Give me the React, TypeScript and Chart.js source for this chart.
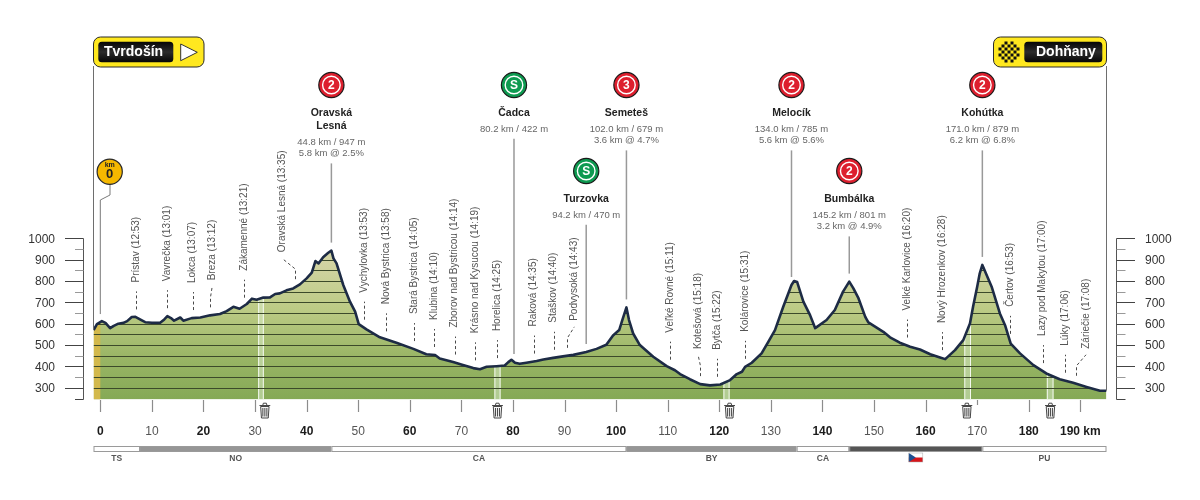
import React, { useEffect, useRef } from "react";
import { Chart, registerables } from "chart.js";

Chart.register(...registerables);

const FONT = '"Liberation Sans", Arial, sans-serif';

// profile
const profileKm = [-1.3,-0.65,0.3,1,1.9,2.6,3.5,4.5,5.2,6.1,6.8,7.7,8.7,10,11.6,12.4,13,13.7,14.3,15.5,16.1,17.7,19.4,21.3,23.2,24.5,25.8,27,28.4,29.4,30.3,31.6,32.9,33.9,34.8,36.1,37.4,38.7,40,41,41.7,42.3,43.2,44.2,44.8,45.2,45.8,47.1,48.4,49.4,50.1,51.6,54.2,57.4,60.7,63.2,64.9,65.8,68.4,70.3,72.3,73.6,74.9,76.8,78.4,79.1,79.7,80.4,81.3,82.6,84.6,85.9,87.8,89.7,91.7,94.2,96.2,98.1,99.4,100.6,101.2,102,102.5,103.3,104.6,107.2,109.8,111.4,112.4,114.3,116.3,118.2,120.2,122.1,123.4,124.4,125,126.3,128.2,129.5,130.8,132.4,134,134.5,135.1,136.3,137.6,138.6,140.8,142.4,144,145.2,146,147,148.3,148.9,150.2,151.8,153.1,155,157,158.9,160.9,162.8,163.8,165.7,167.3,168.6,169.2,170,170.5,171,172.8,174.4,175.4,176.5,178.3,180.9,183.4,186,188.6,191.2,193.8,195.07];
const profileElevation = [575,603,617,609,584,595,605,609,617,636,637,625,612,609,609,625,640,631,619,634,619,631,634,644,650,664,684,675,697,722,717,727,728,744,747,761,770,789,817,844,898,887,916,937,947,911,887,786,708,661,603,578,541,516,487,462,458,442,425,412,397,392,403,406,409,425,436,422,417,422,430,437,445,452,459,472,487,506,550,575,622,681,622,559,505,450,406,387,369,345,322,316,320,341,369,380,403,422,466,520,575,684,786,805,800,708,645,584,622,669,755,802,770,723,637,611,591,567,541,516,497,484,462,447,439,481,528,606,684,778,841,880,778,653,598,512,466,411,372,345,328,309,291,291];

// axes
const kmTicks = [0,10,20,30,40,50,60,70,80,90,100,110,120,130,140,150,160,170,180,190];
const kmBoldTicks = [0,20,40,60,80,100,120,140,160,180,190];
const kmShortTicks = [170];
const elevMajorTicks = [300,400,500,600,700,800,900,1000];
const elevMinorTicks = [250,350,450,550,650,750,850,950];
const elevGridLines = [300,350,400,450,500,550,600,650,700,750,800,850,900,950];

// towns
const townNames = ["Prístav (12:53)","Vavrečka (13:01)","Lokca (13:07)","Breza (13:12)","Zákamenné (13:21)","Oravská Lesná (13:35)","Vychylovka (13:53)","Nová Bystrica (13:58)","Stará Bystrica (14:05)","Klubina (14:10)","Zborov nad Bystricou (14:14)","Krásno nad Kysucou (14:19)","Horelica (14:25)","Raková (14:35)","Staškov (14:40)","Podvysoká (14:43)","Veľké Rovné (15:11)","Kotešová (15:18)","Bytča (15:22)","Kolárovice (15:31)","Velké Karlovice (16:20)","Nový Hrozenkov (16:28)","Čertov (16:53)","Lazy pod Makytou (17:00)","Lúky (17:06)","Záriečie (17:08)"];
const townKm = [7,13,17.9,21.3,27.9,37.8,51.1,55.4,60.8,64.7,68.7,72.6,77,84,87.9,90.4,110.4,116.3,119.6,125,156.4,163.2,176.4,182.7,187.1,189.2];
const townTextKm = [7,13,17.9,21.7,27.9,35.2,51.1,55.4,60.8,64.7,68.7,72.6,77,84,87.9,91.9,110.4,115.9,119.6,125,156.4,163.2,176.4,182.7,187.1,191.1];

// climbs
const climbTitles = [["Oravská","Lesná"],["Čadca"],["Turzovka"],["Semeteš"],["Melocík"],["Bumbálka"],["Kohútka"]];
const climbKm = [44.8,80.2,94.2,102,134,145.2,171];
const climbInfo = [["44.8 km / 947 m","5.8 km @ 2.5%"],["80.2 km / 422 m"],["94.2 km / 470 m"],["102.0 km / 679 m","3.6 km @ 4.7%"],["134.0 km / 785 m","5.6 km @ 5.6%"],["145.2 km / 801 m","3.2 km @ 4.9%"],["171.0 km / 879 m","6.2 km @ 6.8%"]];
const climbBadge = ["2","S","S","3","2","2","2"];
const climbLowerRow = [false,false,true,false,false,true,false];

// feed zones
const feedStartKm = [30.6,76.4,120.8,167.5,183.5];
const feedEndKm = [31.7,77.6,122,168.8,184.8];
const trashKm = [31.9,77,122,168,184.2];

// regions
const regionEndKm = [7.7,44.8,102,135,145.2,171,195.07];
const regionNames = ["TS","NO","CA","BY","CA","","PU"];
const regionShade = ["#ffffff","#969696","#ffffff","#969696","#ffffff","#555555","#ffffff"];

const startName = "Tvrdošín";
const finishName = "Dohňany";

function elevationAt(km: number) {
  for (let i = 1; i < profileKm.length; i++) {
    if (km <= profileKm[i]) {
      const t = (km - profileKm[i - 1]) / (profileKm[i] - profileKm[i - 1]);
      return profileElevation[i - 1] + t * (profileElevation[i] - profileElevation[i - 1]);
    }
  }
  return profileElevation[profileElevation.length - 1];
}

function roundRect(ctx: CanvasRenderingContext2D, x: number, y: number, w: number, h: number, r: number) {
  ctx.beginPath();
  ctx.roundRect(x, y, w, h, r);
}

function drawTrash(ctx: CanvasRenderingContext2D, cx: number) {
  ctx.save();
  ctx.strokeStyle = "#333";
  ctx.fillStyle = "#f4f4f4";
  ctx.lineWidth = 0.9;
  ctx.beginPath();
  ctx.moveTo(cx - 4.2, 406.5);
  ctx.lineTo(cx - 3.4, 418);
  ctx.lineTo(cx + 3.4, 418);
  ctx.lineTo(cx + 4.2, 406.5);
  ctx.closePath();
  ctx.fill();
  ctx.stroke();
  ctx.beginPath();
  ctx.moveTo(cx - 5.4, 405.5);
  ctx.lineTo(cx + 5.4, 405.5);
  ctx.moveTo(cx - 2, 405);
  ctx.lineTo(cx - 1.5, 403.2);
  ctx.lineTo(cx + 1.5, 403.2);
  ctx.lineTo(cx + 2, 405);
  for (const dx of [-2, 0, 2]) {
    ctx.moveTo(cx + dx, 408);
    ctx.lineTo(cx + dx, 416.5);
  }
  ctx.stroke();
  ctx.restore();
}

function drawBadge(ctx: CanvasRenderingContext2D, cx: number, cy: number, label: string) {
  const green = label === "S";
  ctx.save();
  ctx.beginPath();
  ctx.arc(cx, cy, 12.6, 0, Math.PI * 2);
  ctx.fillStyle = green ? "#0d9a50" : "#dd1f2e";
  ctx.fill();
  ctx.lineWidth = 1.2;
  ctx.strokeStyle = "#1a1a1a";
  ctx.stroke();
  ctx.beginPath();
  ctx.arc(cx, cy, 8.8, 0, Math.PI * 2);
  ctx.lineWidth = 1.4;
  ctx.strokeStyle = "#fff";
  ctx.stroke();
  ctx.fillStyle = "#fff";
  ctx.font = `bold 12px ${FONT}`;
  ctx.textAlign = "center";
  ctx.textBaseline = "middle";
  ctx.fillText(label, cx, cy + 0.5);
  ctx.restore();
}

function blackPlate(ctx: CanvasRenderingContext2D, x: number, w: number) {
  const g = ctx.createLinearGradient(0, 41.5, 0, 62.5);
  g.addColorStop(0, "#050505");
  g.addColorStop(0.5, "#2c2c2c");
  g.addColorStop(1, "#050505");
  ctx.fillStyle = g;
  roundRect(ctx, x, 41.7, w, 20.6, 3.5);
  ctx.fill();
}

const decorPlugin = {
  id: "decor",
  afterDatasetDraw(chart: any, args: any) {
    if (args.index !== 0) return;
    const { ctx, chartArea } = chart;
    const x = chart.scales.x;
    const y = chart.scales.y;
    ctx.save();
    ctx.beginPath();
    ctx.moveTo(x.getPixelForValue(profileKm[0]), chartArea.bottom);
    profileKm.forEach((k, i) => ctx.lineTo(x.getPixelForValue(k), y.getPixelForValue(profileElevation[i])));
    ctx.lineTo(x.getPixelForValue(profileKm[profileKm.length - 1]), chartArea.bottom);
    ctx.closePath();
    ctx.clip();
    // neutralised start
    ctx.fillStyle = "#d3b94c";
    ctx.fillRect(chartArea.left, chartArea.top, x.getPixelForValue(0) - chartArea.left, chartArea.height);
    // feed zones
    feedStartKm.forEach((k, i) => {
      const a = x.getPixelForValue(k);
      const b = x.getPixelForValue(feedEndKm[i]);
      ctx.fillStyle = "rgba(220,238,205,0.5)";
      ctx.fillRect(a, chartArea.top, b - a, chartArea.height);
      ctx.fillStyle = "#f4f8ee";
      ctx.fillRect(a, chartArea.top, 1, chartArea.height);
      ctx.fillRect(b - 1, chartArea.top, 1, chartArea.height);
    });
    // elevation lines
    ctx.strokeStyle = "#3c4a2a";
    ctx.lineWidth = 1;
    elevGridLines.forEach((e) => {
      const py = Math.round(y.getPixelForValue(e)) - 0.5;
      ctx.beginPath();
      ctx.moveTo(chartArea.left, py);
      ctx.lineTo(chartArea.right, py);
      ctx.stroke();
    });
    ctx.restore();
  },
  afterDraw(chart: any) {
    const { ctx, chartArea } = chart;
    const x = chart.scales.x;
    const y = chart.scales.y;
    const profileY = (k: number) => y.getPixelForValue(elevationAt(k));
    ctx.save();

    // frame lines
    ctx.strokeStyle = "#6e6e6e";
    ctx.lineWidth = 1;
    ctx.beginPath();
    ctx.moveTo(chartArea.left, 66);
    ctx.lineTo(chartArea.left, y.getPixelForValue(profileElevation[0]));
    ctx.moveTo(chartArea.right, 66);
    ctx.lineTo(chartArea.right, y.getPixelForValue(profileElevation[profileElevation.length - 1]));
    ctx.stroke();

    // side scales
    const top = Math.round(y.getPixelForValue(1000)) - 0.5;
    const bot = Math.round(y.getPixelForValue(250)) - 0.5;
    ctx.strokeStyle = "#555";
    ctx.beginPath();
    ctx.moveTo(83.5, top);
    ctx.lineTo(83.5, bot);
    ctx.moveTo(1116.5, top);
    ctx.lineTo(1116.5, bot);
    ctx.stroke();
    elevMajorTicks.forEach((e) => {
      const py = Math.round(y.getPixelForValue(e)) - 0.5;
      ctx.strokeStyle = "#444";
      ctx.beginPath();
      ctx.moveTo(65, py);
      ctx.lineTo(83.5, py);
      ctx.moveTo(1116.5, py);
      ctx.lineTo(1135, py);
      ctx.stroke();
    });
    elevMinorTicks.forEach((e) => {
      const py = Math.round(y.getPixelForValue(e)) - 0.5;
      ctx.strokeStyle = e === 250 ? "#444" : "#999";
      ctx.beginPath();
      ctx.moveTo(75, py);
      ctx.lineTo(83.5, py);
      ctx.moveTo(1116.5, py);
      ctx.lineTo(1125.5, py);
      ctx.stroke();
    });

    // km ticks
    ctx.strokeStyle = "#8c8c8c";
    ctx.lineWidth = 1.2;
    kmTicks.forEach((k) => {
      const px = Math.round(x.getPixelForValue(k)) + 0.5;
      ctx.beginPath();
      ctx.moveTo(px, 400);
      ctx.lineTo(px, kmShortTicks.includes(k) ? 405 : 412);
      ctx.stroke();
    });

    // trash bins
    trashKm.forEach((k) => drawTrash(ctx, x.getPixelForValue(k)));

    // km 0 marker
    const zero = x.getPixelForValue(0);
    ctx.strokeStyle = "#7a7a7a";
    ctx.lineWidth = 1;
    ctx.beginPath();
    ctx.moveTo(zero + 9.7, 184);
    ctx.lineTo(zero + 9.7, 195);
    ctx.lineTo(zero, 200);
    ctx.lineTo(zero, profileY(0) - 8);
    ctx.stroke();
    ctx.beginPath();
    ctx.arc(zero + 9.4, 171.7, 12.6, 0, Math.PI * 2);
    ctx.fillStyle = "#f5b800";
    ctx.fill();
    ctx.strokeStyle = "#2a2a2a";
    ctx.lineWidth = 1.2;
    ctx.stroke();
    ctx.fillStyle = "#222";
    ctx.textAlign = "center";
    ctx.textBaseline = "middle";
    ctx.font = `bold 7px ${FONT}`;
    ctx.fillText("km", zero + 9.4, 164.8);
    ctx.font = `bold 13px ${FONT}`;
    ctx.fillText("0", zero + 9.4, 174);

    // towns
    townNames.forEach((name, i) => {
      const px = Math.round(x.getPixelForValue(townKm[i])) + 0.5;
      const tx = x.getPixelForValue(townTextKm[i]);
      const base = profileY(townKm[i]);
      const low = base - 8;
      const kinked = townTextKm[i] !== townKm[i];
      const textBottom = base - 35;
      ctx.strokeStyle = "#4a4a4a";
      ctx.lineWidth = 1;
      ctx.setLineDash([3, 2.5]);
      ctx.beginPath();
      ctx.moveTo(px, low);
      if (kinked) {
        ctx.lineTo(px, low - 10);
        ctx.lineTo(tx, textBottom + 6);
      } else {
        ctx.lineTo(px, low - 18);
      }
      ctx.stroke();
      ctx.setLineDash([]);
      ctx.save();
      ctx.translate(tx, textBottom);
      ctx.rotate(-Math.PI / 2);
      ctx.fillStyle = "#555";
      ctx.font = `10px ${FONT}`;
      ctx.textAlign = "left";
      ctx.textBaseline = "middle";
      ctx.fillText(name, 0, 0);
      ctx.restore();
    });

    // climbs
    climbTitles.forEach((title, i) => {
      const cx = x.getPixelForValue(climbKm[i]);
      const shift = climbLowerRow[i] ? 86 : 0;
      drawBadge(ctx, cx, 85 + shift, climbBadge[i]);
      ctx.textAlign = "center";
      ctx.textBaseline = "middle";
      let ty = 113 + shift;
      ctx.fillStyle = "#222";
      ctx.font = `bold 10.5px ${FONT}`;
      title.forEach((line) => {
        ctx.fillText(line, cx, ty);
        ty += 13;
      });
      ty += 3;
      ctx.fillStyle = "#666";
      ctx.font = `9.5px ${FONT}`;
      climbInfo[i].forEach((line) => {
        ctx.fillText(line, cx, ty);
        ty += 11.7;
      });
      ctx.strokeStyle = "#999";
      ctx.lineWidth = 1.5;
      ctx.beginPath();
      ctx.moveTo(cx, ty - 2);
      ctx.lineTo(cx, profileY(climbKm[i]) - 8);
      ctx.stroke();
    });

    // region bar
    let from = chartArea.left;
    regionEndKm.forEach((k, i) => {
      const to = x.getPixelForValue(k);
      ctx.fillStyle = regionShade[i];
      ctx.fillRect(from, 446.5, to - from, 5);
      ctx.strokeStyle = "#9a9a9a";
      ctx.lineWidth = 1;
      ctx.strokeRect(from + 0.5, 446.5, to - from - 1, 5);
      const mid = (from + to) / 2;
      if (regionNames[i]) {
        ctx.fillStyle = "#555";
        ctx.font = `bold 8.5px ${FONT}`;
        ctx.textAlign = "center";
        ctx.textBaseline = "middle";
        ctx.fillText(regionNames[i], mid, 459);
      } else {
        const fx = mid - 7;
        ctx.fillStyle = "#fff";
        ctx.fillRect(fx, 453, 14, 4.5);
        ctx.fillStyle = "#d7141a";
        ctx.fillRect(fx, 457.5, 14, 4.5);
        ctx.fillStyle = "#1d4f91";
        ctx.beginPath();
        ctx.moveTo(fx, 453);
        ctx.lineTo(fx + 7, 457.5);
        ctx.lineTo(fx, 462);
        ctx.closePath();
        ctx.fill();
        ctx.strokeStyle = "#aaa";
        ctx.lineWidth = 0.5;
        ctx.strokeRect(fx, 453, 14, 9);
      }
      from = to;
    });

    // start plate
    ctx.fillStyle = "#ffe81f";
    ctx.strokeStyle = "#2b2b2b";
    ctx.lineWidth = 1;
    roundRect(ctx, 93.5, 37, 110.5, 30, 7);
    ctx.fill();
    ctx.stroke();
    blackPlate(ctx, 98.3, 75);
    ctx.fillStyle = "#fff";
    ctx.font = `bold 14px ${FONT}`;
    ctx.textAlign = "left";
    ctx.textBaseline = "middle";
    ctx.fillText(startName, 104, 52.5);
    ctx.beginPath();
    ctx.moveTo(180.7, 44);
    ctx.lineTo(197.3, 52.3);
    ctx.lineTo(180.7, 60.7);
    ctx.closePath();
    ctx.fillStyle = "#fff";
    ctx.fill();
    ctx.strokeStyle = "#333";
    ctx.stroke();

    // finish plate
    ctx.fillStyle = "#ffe81f";
    ctx.strokeStyle = "#2b2b2b";
    roundRect(ctx, 993.5, 37, 113, 30, 7);
    ctx.fill();
    ctx.stroke();
    blackPlate(ctx, 1024.3, 78);
    ctx.fillStyle = "#fff";
    ctx.font = `bold 14px ${FONT}`;
    ctx.fillText(finishName, 1036, 52.5);
    ctx.fillStyle = "#111";
    for (let r = 0; r < 7; r++) {
      for (let c = 0; c < 7; c++) {
        if ((r + c) % 2 === 0 && !((r === 0 || r === 6) && (c === 0 || c === 6))) {
          ctx.fillRect(998.5 + c * 3, 41.5 + r * 3, 3, 3);
        }
      }
    }
    ctx.restore();
  },
};

export default function App() {
  const ref = useRef<HTMLCanvasElement | null>(null);
  useEffect(() => {
    if (!ref.current) return;
    const points = profileKm.map((k, i) => ({ x: k, y: profileElevation[i] }));
    const chart = new Chart(ref.current, {
      type: "line",
      data: {
        datasets: [
          {
            label: "Profile area",
            order: 1,
            data: points,
            parsing: false,
            pointRadius: 0,
            borderWidth: 0,
            borderColor: "transparent",
            tension: 0,
            fill: "start",
            backgroundColor: (c: any) => {
              const { chartArea, ctx, scales } = c.chart;
              if (!chartArea) return "#a3bb6d";
              const g = ctx.createLinearGradient(0, scales.y.getPixelForValue(900), 0, chartArea.bottom);
              g.addColorStop(0, "#d3d4a4");
              g.addColorStop(0.35, "#bccb85");
              g.addColorStop(0.7, "#99b565");
              g.addColorStop(1, "#85a956");
              return g;
            },
          },
          {
            label: "Profile",
            order: 0,
            data: points,
            parsing: false,
            pointRadius: 0,
            borderWidth: 2.6,
            borderColor: "#1d2b45",
            borderJoinStyle: "round",
            tension: 0,
            fill: false,
          },
        ],
      } as any,
      options: {
        responsive: false,
        animation: false,
        layout: { padding: { top: 239.3 } },
        plugins: { legend: { display: false }, tooltip: { enabled: false } },
        scales: {
          x: {
            type: "linear",
            min: -1.32,
            max: 195.07,
            grid: { display: false, drawTicks: false },
            border: { display: false },
            afterFit: (s: any) => { s.height = 100.5; },
            afterBuildTicks: (s: any) => { s.ticks = kmTicks.map((value) => ({ value })); },
            ticks: {
              autoSkip: false,
              maxRotation: 0,
              padding: 25,
              callback: (v: any) => (v === 190 ? "190 km" : String(v)),
              color: (c: any) => (kmBoldTicks.includes(c.tick?.value) ? "#1c1c1c" : "#555"),
              font: (c: any) => ({
                family: FONT,
                size: 12,
                weight: kmBoldTicks.includes(c.tick?.value) ? "bold" : "normal",
              }),
            },
          },
          y: {
            type: "linear",
            position: "left",
            min: 250,
            max: 1000,
            grid: { display: false, drawTicks: false },
            border: { display: false },
            afterFit: (s: any) => { s.width = 93.5; },
            afterBuildTicks: (s: any) => { s.ticks = elevMajorTicks.map((value) => ({ value })); },
            ticks: { padding: 38.5, color: "#333", font: { family: FONT, size: 12 }, callback: (v: any) => String(v) },
          },
          yRight: {
            type: "linear",
            position: "right",
            min: 250,
            max: 1000,
            grid: { display: false, drawTicks: false },
            border: { display: false },
            afterFit: (s: any) => { s.width = 93.5; },
            afterBuildTicks: (s: any) => { s.ticks = elevMajorTicks.map((value) => ({ value })); },
            ticks: { padding: 38.5, color: "#333", font: { family: FONT, size: 12 }, callback: (v: any) => String(v) },
          },
        },
      } as any,
      plugins: [decorPlugin],
    });
    return () => chart.destroy();
  }, []);
  return (
    <div style={{ position: "absolute", left: 0, top: 0, width: 1200, height: 500, background: "#fff", overflow: "hidden" }}>
      <canvas ref={ref} width={1200} height={500} style={{ display: "block" }} />
    </div>
  );
}
